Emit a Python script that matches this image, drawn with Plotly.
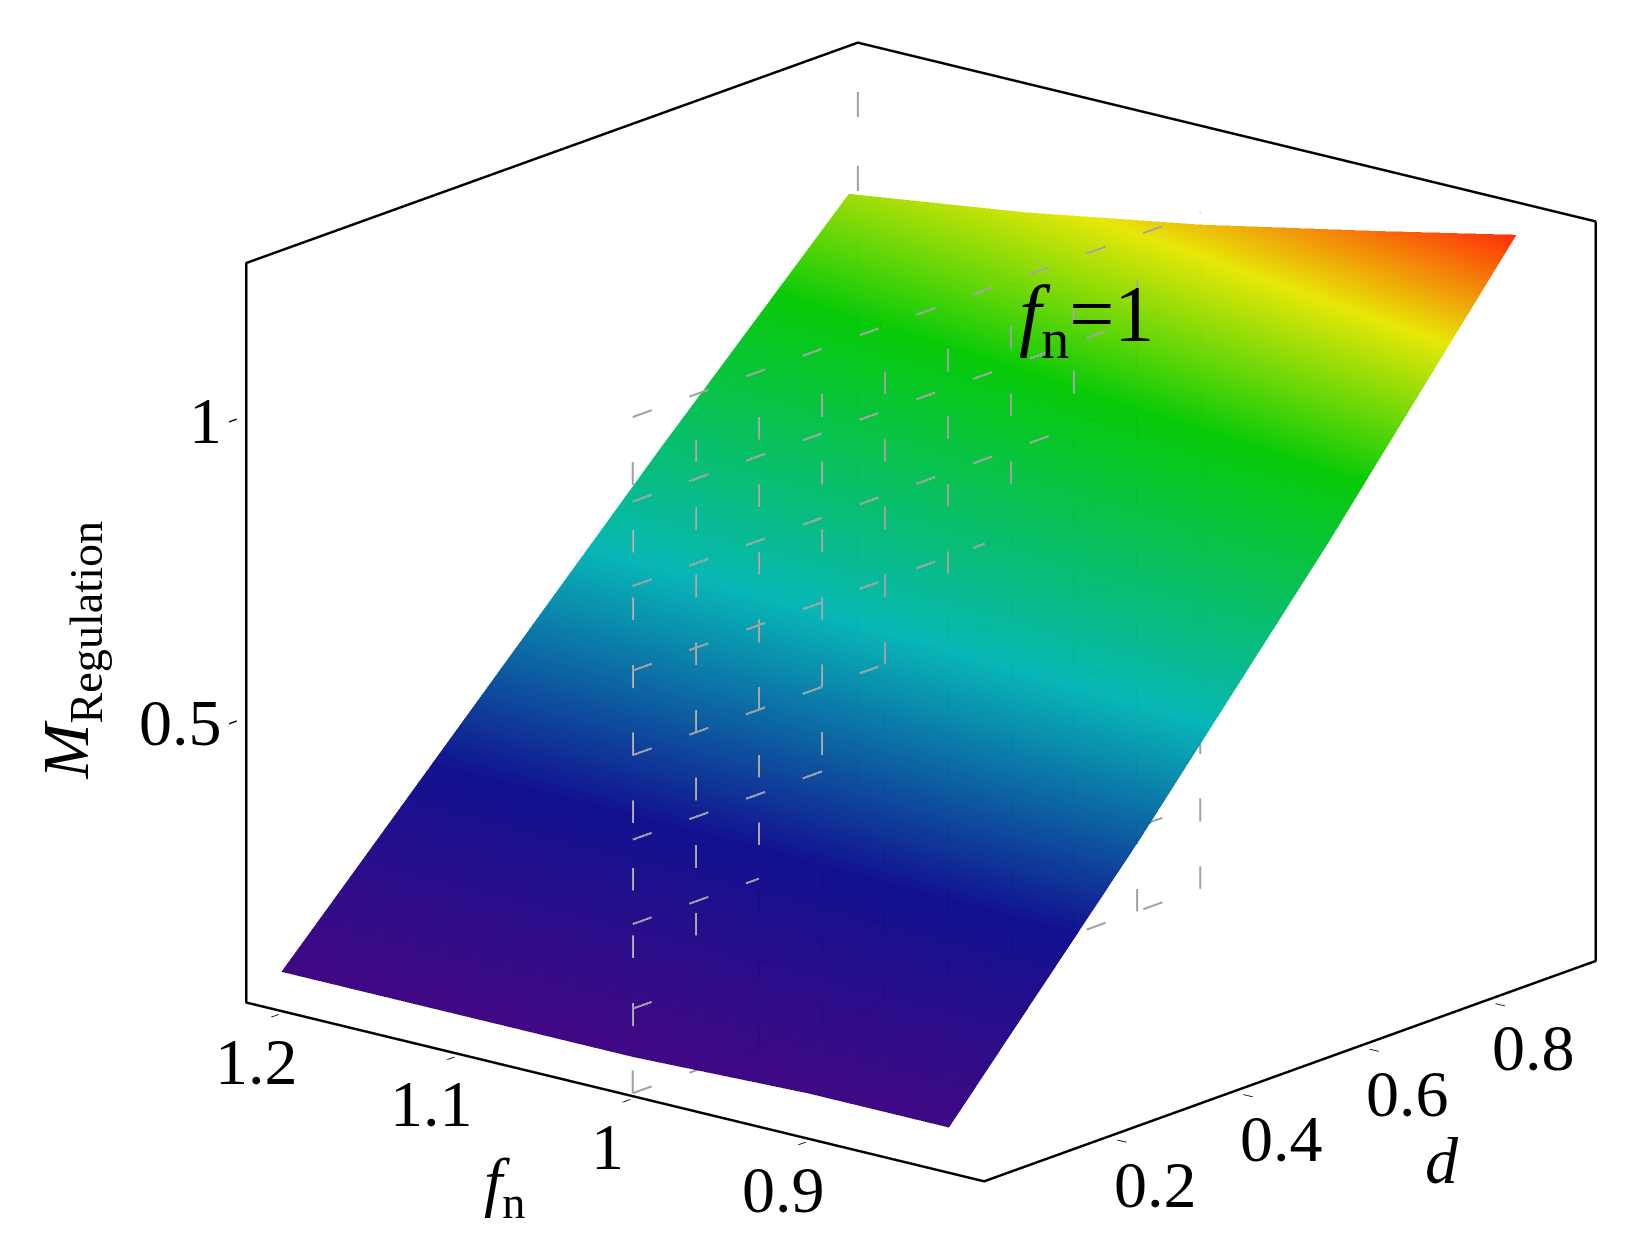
import plotly.graph_objects as go

# surface samples
d_vals = [0.0, 0.3, 0.6, 0.9]
fn_vals = [0.82, 0.9, 1.0, 1.1, 1.2]
m_vals = [
    [0.11, 0.47, 0.85, 1.25],
    [0.11, 0.46, 0.82, 1.20],
    [0.10, 0.44, 0.79, 1.14],
    [0.10, 0.43, 0.76, 1.09],
    [0.10, 0.42, 0.74, 1.05],
]

# fn = 1 reference plane grid
plane_d = [0.0, 0.1, 0.2, 0.3, 0.4, 0.5, 0.6, 0.7, 0.8, 0.9]
plane_z = [0.04, 0.18, 0.32, 0.46, 0.60, 0.74, 0.88, 1.02, 1.16]
plane_fn = 1.0

d_ticks = [0.2, 0.4, 0.6, 0.8]
d_labels = ['0.2', '0.4', '0.6', '0.8']
fn_ticks = [0.9, 1.0, 1.1, 1.2]
fn_labels = ['0.9', '1', '1.1', '1.2']
z_ticks = [0.5, 1.0]
z_labels = ['0.5', '1']

d_box = [0.0, 0.97]
fn_box = [0.8, 1.22]
z_box = [0.035, 1.26]
pad = 0.004

cscale = [[0.0, '#3b0080'], [0.22, '#0a0a8c'], [0.45, '#00b4b4'],
          [0.72, '#00c800'], [0.88, '#e6e600'], [1.0, '#ff2800']]

fig = go.Figure()
fig.add_trace(go.Surface(x=d_vals, y=fn_vals, z=m_vals, colorscale=cscale,
                         cmin=0.1, cmax=1.25, showscale=False, opacity=0.97,
                         lighting=dict(ambient=1, diffuse=0, specular=0, fresnel=0),
                         hoverinfo='skip'))

grey = dict(color='#a0a0a0', width=4, dash='longdash')
for dv in plane_d:
    fig.add_trace(go.Scatter3d(x=[dv, dv], y=[plane_fn] * 2, z=[plane_z[0], plane_z[-1]],
                               mode='lines', line=grey, showlegend=False, hoverinfo='skip'))
for zv in plane_z:
    fig.add_trace(go.Scatter3d(x=[plane_d[0], plane_d[-1]], y=[plane_fn] * 2, z=[zv, zv],
                               mode='lines', line=grey, showlegend=False, hoverinfo='skip'))
# hidden back edge
fig.add_trace(go.Scatter3d(x=[d_box[1]] * 2, y=[fn_box[1]] * 2, z=z_box, mode='lines',
                           line=grey, showlegend=False, hoverinfo='skip'))

# outer box outline
box_x = [d_box[1], d_box[1], d_box[0], d_box[0], d_box[0], d_box[1], d_box[1]]
box_y = [fn_box[0], fn_box[0], fn_box[0], fn_box[1], fn_box[1], fn_box[1], fn_box[0]]
box_z = [z_box[1], z_box[0], z_box[0], z_box[0], z_box[1], z_box[1], z_box[1]]
fig.add_trace(go.Scatter3d(x=box_x, y=box_y, z=box_z, mode='lines',
                           line=dict(color='black', width=5), showlegend=False, hoverinfo='skip'))

serif = 'Liberation Serif'
lab_font = dict(family=serif, size=66, color='black')

notes = []
for v, t in zip(fn_ticks, fn_labels):
    notes.append(dict(x=d_box[0], y=v, z=z_box[0], text=t, xshift=-25, yshift=-50))
for v, t in zip(d_ticks, d_labels):
    notes.append(dict(x=v, y=fn_box[0], z=z_box[0], text=t, xshift=45, yshift=-48))
for v, t in zip(z_ticks, z_labels):
    notes.append(dict(x=d_box[0], y=fn_box[1], z=v, text=t, xanchor='right', xshift=-22))
notes.append(dict(x=d_box[0], y=1.07, z=z_box[0], text='<i>f</i><sub>n</sub>',
                  xshift=-5, yshift=-120))
notes.append(dict(x=0.6, y=fn_box[0], z=z_box[0], text='<i>d</i>', xshift=80, yshift=-115))
notes.append(dict(x=d_box[0], y=fn_box[1], z=0.62, text='<i>M</i><sub>Regulation</sub>',
                  textangle=-90, xshift=-175))
notes.append(dict(x=0.72, y=plane_fn, z=1.05, text='<i>f</i><sub>n</sub>=1',
                  font=dict(family=serif, size=80, color='black')))
for n in notes:
    n.setdefault('font', lab_font)
    n['showarrow'] = False

ax = dict(showbackground=False, showgrid=False, zeroline=False, showspikes=False,
          showticklabels=False, title=dict(text=''),
          ticks='outside', tickcolor='black', ticklen=12, tickwidth=3)

fig.update_layout(
    width=1630, height=1233, paper_bgcolor='white',
    margin=dict(l=0, r=0, t=0, b=0),
    font=dict(family=serif),
    scene=dict(
        domain=dict(x=[0.12, 1], y=[0.02, 1]),
        xaxis=dict(ax, range=[d_box[0] - pad, d_box[1] + pad], tickvals=d_ticks),
        yaxis=dict(ax, range=[fn_box[0] - pad, fn_box[1] + pad], tickvals=fn_ticks),
        zaxis=dict(ax, range=[z_box[0] - pad, z_box[1] + pad], tickvals=z_ticks),
        aspectmode='manual', aspectratio=dict(x=1.61, y=1.61, z=1.29),
        camera=dict(eye=dict(x=-1.0, y=-0.82, z=0.4),
                    projection=dict(type='orthographic')),
        annotations=notes,
    ),
)

fig.write_html('out.html')
